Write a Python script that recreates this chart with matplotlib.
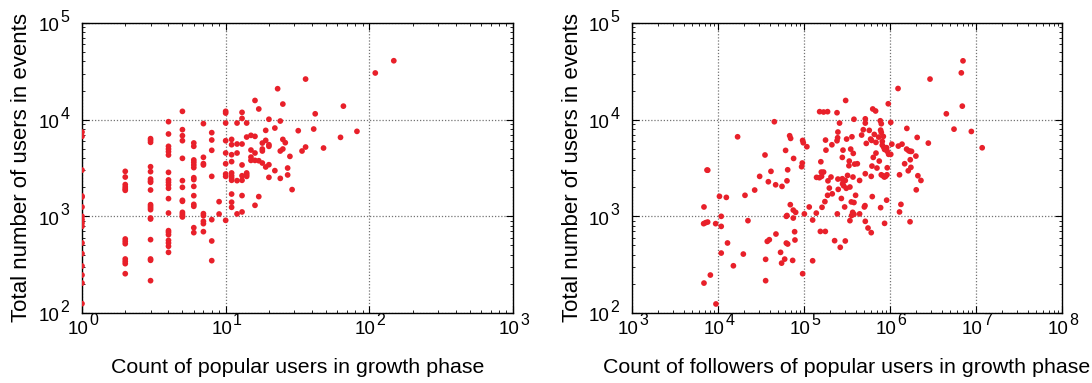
import numpy as np
import matplotlib.pyplot as plt
from matplotlib.ticker import LogLocator, NullFormatter

plt.rcParams['font.family'] = ['Liberation Sans', 'DejaVu Sans']
plt.rcParams['mathtext.default'] = 'regular'

# left panel: number of popular users (integer) -> totals observed for that count
popular_counts = [1, 2, 3, 4, 5, 6, 7, 8, 9, 10, 11, 12, 13, 14, 15, 16, 17, 18, 19, 20,
                  22, 23, 24, 25, 26, 27, 28, 29, 32, 34, 36, 41, 42, 48, 63, 66, 82, 110, 148]
popular_totals = [
    [7450, 6720, 3010, 1620, 1585, 1250, 1000, 924, 853, 788, 530, 411, 306, 247, 204, 125],
    [2920, 2550, 2130, 2010, 1918, 1858, 583, 551, 521, 362, 342, 324, 255],
    [6360, 6110, 5830, 3260, 2900, 2430, 2320, 2250, 1872, 1320, 1270, 1220, 1172, 961, 938,
     574, 362, 351, 216],
    [9530, 7110, 5300, 4970, 4670, 4310, 2850, 2380, 2250, 2110, 1950, 1525, 1082, 711, 683,
     646, 564, 530, 490, 424],
    [12190, 7880, 6830, 6060, 3980, 2340, 1995, 1465, 1430, 1100, 1057, 1016, 985],
    [5740, 5300, 3830, 3620, 3400, 3190, 2510, 2400, 2040, 1636, 1330, 1270, 763, 678],
    [9100, 4080, 3510, 3400, 1066, 1016, 888, 840, 694],
    [7340, 6160, 4820, 2590, 924, 556, 348],
    [1418, 1057],
    [12200, 11700, 9230, 6060, 4520, 3500, 2740, 2590, 909],
    [6250, 5510, 4340, 3680, 2810, 2630, 2490, 2360, 1700, 1400, 1240],
    [9230, 5600, 4520, 2340, 1060],
    [11900, 10300, 5600, 3400, 2630, 2360, 1640, 1110],
    [9230, 6610, 2810, 2700, 2590],
    [6880, 4850, 4100, 3790],
    [15800, 6720, 4520, 3790, 1300],
    [12900, 3760, 1600],
    [5730, 4970, 4740, 3560],
    [7750, 6110, 3240],
    [10100, 5510, 5300, 3420, 2530],
    [8190, 2970],
    [20900],
    [9680, 4740, 2470],
    [14500, 6250, 4970],
    [5780],
    [3160, 2680],
    [4170],
    [1890],
    [7690],
    [4740],
    [26300, 5210],
    [8000],
    [11500],
    [5090],
    [6560],
    [13800],
    [7570],
    [30400],
    [40700],
]

# right panel: followers of popular users vs total users
followers = [
    45200, 16900, 35200, 7450, 7600, 41300, 30500, 38500, 46800, 26700, 20600, 10400, 12500,
    6870, 10900, 22300, 6810, 7180, 7580, 9390, 10900, 47200, 39500, 37400, 12900, 10900,
    19700, 35800, 15100, 8150, 6870, 35800, 9470,
    53400, 54900, 59600, 73800, 126000, 96400,
    1.24e6, 305000, 955000, 152000, 169000, 188000, 242000, 630000, 680000,
    259000, 381000, 516000, 516000, 771000, 792000, 1.02e6, 248000, 489000, 574000, 778000,
    792000, 68100, 69900, 96400, 98100, 108000, 178000, 246000, 242000, 313000, 361000,
    468000, 595000, 657000, 687000, 738000, 836000, 813000, 1.57e6, 2.07e6, 61100, 75700,
    64600, 95500, 93800, 157000, 180000, 211000, 284000, 279000, 349000, 374000, 336000,
    333000, 388000, 417000, 530000, 611000, 639000, 687000, 750000, 813000, 843000, 865000,
    914000, 929000, 964000, 1.02e6, 1.05e6, 1.25e6, 1.38e6, 1.56e6, 1.65e6, 1.72e6, 1.78e6,
    2.0e6, 1.72e6, 1.48e6, 1.75e6, 1.63e6, 617000, 705000, 929000, 55500, 63400, 140000,
    151000, 160000, 159000, 169000, 206000, 190000, 248000, 279000, 281000, 286000, 302000,
    289000, 321000, 371000, 443000, 516000, 605000, 792000, 828000, 859000, 889000, 922000,
    1.29e6, 2.11e6, 2.02e6, 197000, 250000, 310000, 342000, 213000,
    188000, 175000, 272000, 398000, 355000, 381000, 622000, 914000, 162000, 115000, 139000,
    69300, 75000, 80000, 63400, 62300, 101000, 297000, 512000, 503000, 778000, 1.34e6,
    1.29e6, 244000, 368000, 381000, 443000, 358000, 126000, 75000, 342000, 516000, 865000,
    1.71e6, 155000, 177000, 555000, 605000, 77800, 78500, 62300, 64600, 227000, 302000,
    264000,
    7.06e6, 6.75e6, 2.92e6, 6.93e6, 4.52e6, 5.55e6, 8.83e6, 1.18e7, 2.79e6, 2.29e6,
]
follower_totals = [
    9520, 6650, 4310, 3010, 3000, 2920, 2590, 2280, 2120, 1870, 1650, 1610, 1570,
    1250, 1000, 902, 840, 860, 873, 840, 787, 656, 573, 551, 530, 417,
    407, 359, 308, 247, 204, 216, 124,
    424, 328, 361, 350, 347, 255,
    21000, 15800, 14600, 12100, 12000, 12100, 11800, 12900, 12300,
    9220, 10100, 10200, 9220, 9740, 9080, 9370, 7450, 7870, 7750, 7800,
    7380, 6820, 6400, 6100, 5770, 5250, 6150, 6500, 6050, 6300, 6650,
    6930, 6300, 7040, 5820, 6600, 6710, 5960, 8120, 6550, 4810, 3970,
    3030, 3560, 3260, 3670, 4840, 5500, 4840, 4070, 4960, 4480, 3730,
    3340, 3470, 3500, 5680, 6100, 4070, 4510, 3730, 5460, 5200, 4920,
    5130, 4700, 4380, 4380, 5580, 5330, 5580, 4960, 4770, 4700, 4700,
    4200, 3850, 3500, 3210, 2960, 3310, 3160, 3180, 2040, 2330, 2530,
    2510, 2590, 2870, 2870, 2550, 2330, 2430, 2450, 2170, 2330, 2350,
    2070, 2650, 2550, 2350, 2760, 2590, 2690, 2630, 2550, 2590, 2690,
    2690, 2630, 1880, 1960, 1900, 1950, 2010, 1710,
    1650, 1420, 1530, 1650, 1410, 1390, 1600, 1470, 1240, 1250, 1080,
    1320, 1160, 1100, 1020, 1000, 1060, 1250, 1290, 1250, 1230, 1330,
    1110, 1060, 1100, 1050, 1060, 1020, 916, 960, 902, 888, 846,
    879, 698, 698, 757, 678, 693, 569, 529, 517, 560, 556,
    478,
    40600, 30500, 26300, 13800, 11500, 7980, 7550, 5120, 5720, 2350,
]

pop_x = np.concatenate([[c] * len(t) for c, t in zip(popular_counts, popular_totals)])
pop_y = np.concatenate(popular_totals)

dot_color = '#e8202a'
label_size = 15.4
ylabel_size = 16
base_size = 13.5   # the "10" of a tick label
exp_size = 11.5    # the exponent, drawn almost as big as the base

fig = plt.figure(figsize=(10.92, 3.83), dpi=100)
ax1 = fig.add_axes([82 / 1092, 1 - 313 / 383, 431 / 1092, 290 / 383])
ax2 = fig.add_axes([632 / 1092, 1 - 313 / 383, 430 / 1092, 290 / 383])


def power_labels(ax, xexps, yexps):
    # tick labels written as "10" plus a large raised exponent
    for e in xexps:
        ax.annotate('10', xy=(10.0 ** e, 0), xycoords=('data', 'axes fraction'),
                    xytext=(4.8, -15), textcoords='offset points',
                    ha='right', va='baseline', fontsize=base_size)
        ax.annotate(str(e), xy=(10.0 ** e, 0), xycoords=('data', 'axes fraction'),
                    xytext=(5.2, -8.4), textcoords='offset points',
                    ha='left', va='baseline', fontsize=exp_size)
    for e in yexps:
        ax.annotate('10', xy=(0, 10.0 ** e), xycoords=('axes fraction', 'data'),
                    xytext=(-16.4, -5.9), textcoords='offset points',
                    ha='right', va='baseline', fontsize=base_size)
        ax.annotate(str(e), xy=(0, 10.0 ** e), xycoords=('axes fraction', 'data'),
                    xytext=(-9.1, 0.6), textcoords='offset points',
                    ha='right', va='baseline', fontsize=exp_size)


def style(ax, xlim):
    ax.set_xscale('log')
    ax.set_yscale('log')
    ax.set_xlim(*xlim)
    ax.set_ylim(1e2, 1e5)
    for a in (ax.xaxis, ax.yaxis):
        a.set_major_locator(LogLocator(base=10, numticks=10))
        a.set_minor_locator(LogLocator(base=10, subs=np.arange(2, 10), numticks=100))
        a.set_minor_formatter(NullFormatter())
    ax.grid(True, which='major', linestyle=(0, (1, 1.5)), color='0.45', linewidth=0.9)
    ax.set_axisbelow(True)
    ax.tick_params(which='both', direction='in', top=True, right=True, colors='black',
                   labelbottom=False, labelleft=False)
    ax.tick_params(which='major', length=5, width=0.8)
    ax.tick_params(which='minor', length=2.5, width=0.6)
    for sp in ax.spines.values():
        sp.set_linewidth(1.0)
    ax.set_ylabel('Total number of users in events', fontsize=ylabel_size)
    ax.yaxis.set_label_coords(-0.115, 0.5)


ax1.scatter(pop_x, pop_y, s=17, color=dot_color, edgecolors='none', zorder=3)
style(ax1, (1, 1e3))
power_labels(ax1, range(0, 4), range(2, 6))
ax1.set_xlabel('Count of popular users in growth phase', fontsize=label_size)
ax1.xaxis.set_label_coords(0.5, -0.155)

ax2.scatter(followers, follower_totals, s=17, color=dot_color, edgecolors='none', zorder=3)
style(ax2, (1e3, 1e8))
power_labels(ax2, range(3, 9), range(2, 6))
ax2.set_xlabel('Count of followers of popular users in growth phase', fontsize=label_size)
ax2.xaxis.set_label_coords(0.5, -0.155)

fig.savefig('out.png', dpi=100)
